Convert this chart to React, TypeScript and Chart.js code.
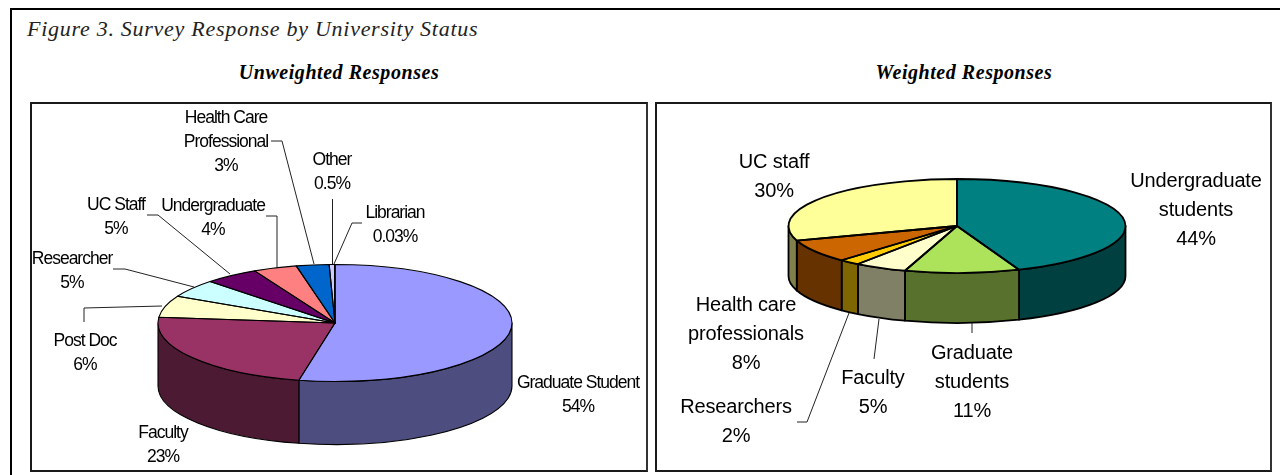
import React, { useEffect, useRef } from "react";
import { Chart, registerables } from "chart.js";

Chart.register(...registerables);

const unweightedCategories = ["Graduate Student", "Faculty", "Post Doc", "Researcher", "UC Staff", "Undergraduate", "Health Care Professional", "Other", "Librarian"];
const unweightedValues = [53.5, 23.4, 6, 5, 5, 4, 3, 0.5, 0.03];
const unweightedValueLabels = ["54%", "23%", "6%", "5%", "5%", "4%", "3%", "0.5%", "0.03%"];
const unweightedTopColors = ["#9999FF", "#993366", "#FFFFCC", "#CCFFFF", "#660066", "#FF8080", "#0066CC", "#CCCCFF", "#000080"];
const unweightedSideColors = ["#4D4D80", "#4D1A33", "#808066", "#668080", "#330033", "#804040", "#003366", "#666680", "#000040"];

const weightedCategories = ["Undergraduate students", "Graduate students", "Faculty", "Researchers", "Health care professionals", "UC staff"];
const weightedValues = [44, 11, 5, 2, 8, 30];
const weightedValueLabels = ["44%", "11%", "5%", "2%", "8%", "30%"];
const weightedTopColors = ["#008080", "#ADE35A", "#FFFFCC", "#FFCC00", "#CC6600", "#FFFF99"];
const weightedSideColors = ["#004040", "#58722E", "#808066", "#806600", "#663300", "#80804D"];

type Pt = [number, number];
type Lbl = { x: number; y: number; wrap?: boolean };
type Cfg = {
  left: number; width: number; cx: number; cy: number; rx: number; ry: number; depth: number;
  line: number; font: string; spacing: string; lineH: number;
  sides: string[]; names: string[]; texts: string[]; labels: Lbl[]; leaders: Pt[][];
};

const unweightedCfg: Cfg = {
  left: 0, width: 652, cx: 335, cy: 323, rx: 177, ry: 58.5, depth: 63,
  line: 1.1, font: '17.5px "Liberation Sans"', spacing: "-1px", lineH: 24,
  sides: unweightedSideColors, names: unweightedCategories, texts: unweightedValueLabels,
  labels: [
    { x: 578, y: 383 }, { x: 163, y: 433 }, { x: 85, y: 341 }, { x: 72, y: 259 }, { x: 116, y: 205 },
    { x: 213, y: 206 }, { x: 226, y: 118, wrap: true }, { x: 332, y: 160 }, { x: 395, y: 213 },
  ],
  leaders: [
    [[271, 141], [282, 141], [314, 264]],
    [[332.5, 199], [332.5, 264]],
    [[362, 223], [352, 223], [334, 264]],
    [[147, 215], [158, 215], [230, 274]],
    [[266, 216], [277, 216], [277, 267]],
    [[113, 269], [125, 269], [194, 287]],
    [[84, 322], [84, 308], [162, 306]],
  ],
};

const weightedCfg: Cfg = {
  left: 652, width: 628, cx: 957, cy: 226, rx: 168.5, ry: 47, depth: 50,
  line: 1.8, font: '20px "Liberation Sans"', spacing: "-0.15px", lineH: 29,
  sides: weightedSideColors, names: weightedCategories, texts: weightedValueLabels,
  labels: [
    { x: 1196, y: 181, wrap: true }, { x: 972, y: 353, wrap: true }, { x: 873, y: 378 }, { x: 736, y: 407 },
    { x: 746, y: 305, wrap: true }, { x: 774, y: 162 },
  ],
  leaders: [
    [[972, 323], [972, 333]],
    [[879, 319], [874, 359]],
    [[849, 313], [807, 422], [797, 422]],
  ],
};

const PAGE_H = 475;

function pie3d(cfg: Cfg) {
  const k = cfg.ry / cfg.rx;
  const midY = PAGE_H / 2;
  return {
    id: "pie3d",
    beforeDatasetsDraw(chart: any) {
      const ctx = chart.ctx;
      const arcs = chart.getDatasetMeta(0).data;
      const x0 = cfg.cx - cfg.left;
      // side walls
      ctx.save();
      arcs.forEach((el: any, i: number) => {
        const p = el.getProps(["startAngle", "endAngle", "outerRadius"], true);
        const a = Math.max(p.startAngle, 0);
        const b = Math.min(p.endAngle, Math.PI);
        if (b <= a) return;
        ctx.beginPath();
        ctx.ellipse(x0, cfg.cy, p.outerRadius, p.outerRadius * k, 0, a, b);
        ctx.ellipse(x0, cfg.cy + cfg.depth, p.outerRadius, p.outerRadius * k, 0, b, a, true);
        ctx.closePath();
        ctx.fillStyle = cfg.sides[i];
        ctx.fill();
        ctx.lineWidth = cfg.line;
        ctx.strokeStyle = "#000";
        ctx.lineJoin = "round";
        ctx.stroke();
      });
      ctx.restore();
      // flatten the library's own arcs
      ctx.save();
      ctx.translate(0, cfg.cy);
      ctx.scale(1, k);
      ctx.translate(0, -midY);
    },
    afterDatasetsDraw(chart: any) {
      const ctx = chart.ctx;
      ctx.restore();
      const arcs = chart.getDatasetMeta(0).data;
      const x0 = cfg.cx - cfg.left;
      ctx.save();
      ctx.strokeStyle = "#000";
      ctx.lineWidth = cfg.line;
      ctx.lineJoin = "round";
      arcs.forEach((el: any) => {
        const p = el.getProps(["startAngle", "endAngle", "outerRadius"], true);
        ctx.beginPath();
        ctx.moveTo(x0, cfg.cy);
        ctx.ellipse(x0, cfg.cy, p.outerRadius, p.outerRadius * k, 0, p.startAngle, p.endAngle);
        ctx.closePath();
        ctx.stroke();
      });
      // leader lines
      ctx.lineWidth = 1;
      ctx.strokeStyle = "#222";
      cfg.leaders.forEach((pts) => {
        ctx.beginPath();
        pts.forEach(([x, y], i) => (i ? ctx.lineTo(x - cfg.left, y) : ctx.moveTo(x - cfg.left, y)));
        ctx.stroke();
      });
      // labels
      ctx.fillStyle = "#000";
      ctx.font = cfg.font;
      ctx.letterSpacing = cfg.spacing;
      ctx.textAlign = "center";
      ctx.textBaseline = "middle";
      cfg.labels.forEach((l, i) => {
        const name = cfg.names[i];
        let lines = [name];
        if (l.wrap) {
          const at = name.lastIndexOf(" ");
          lines = [name.slice(0, at), name.slice(at + 1)];
        }
        lines.push(cfg.texts[i]);
        lines.forEach((t, j) => ctx.fillText(t, l.x - cfg.left, l.y + j * cfg.lineH));
      });
      ctx.restore();
    },
  };
}

function usePie(ref: React.RefObject<HTMLCanvasElement | null>, cfg: Cfg, values: number[], colors: string[]) {
  useEffect(() => {
    if (!ref.current) return;
    const padLeft = cfg.cx - cfg.left - cfg.rx;
    const chart = new Chart(ref.current, {
      type: "pie",
      data: {
        labels: cfg.names,
        datasets: [{ data: values, backgroundColor: colors, borderWidth: 0, hoverOffset: 0 }],
      },
      options: {
        animation: false,
        responsive: false,
        devicePixelRatio: 1,
        layout: {
          padding: {
            left: padLeft,
            right: cfg.width - padLeft - 2 * cfg.rx,
            top: PAGE_H / 2 - cfg.rx,
            bottom: PAGE_H / 2 - cfg.rx,
          },
        },
        plugins: { legend: { display: false }, tooltip: { enabled: false }, title: { display: false } },
      },
      plugins: [pie3d(cfg)],
    } as any);
    return () => chart.destroy();
  }, []);
}

const frame = (left: number, top: number, w: number, h: number): React.CSSProperties => ({
  position: "absolute", left, top, width: w, height: h, boxSizing: "border-box",
  borderTop: "2px solid #1a1a1a", borderLeft: "2px solid #1a1a1a", borderRight: "2px solid #333", borderBottom: "2px solid #1a1a1a",
});

export default function App() {
  const a = useRef<HTMLCanvasElement>(null);
  const b = useRef<HTMLCanvasElement>(null);
  usePie(a, unweightedCfg, unweightedValues, unweightedTopColors);
  usePie(b, weightedCfg, weightedValues, weightedTopColors);
  const head: React.CSSProperties = {
    position: "absolute", top: 61, font: 'italic bold 20px "Liberation Serif"', letterSpacing: "0.55px", textAlign: "center", color: "#000", whiteSpace: "nowrap",
  };
  return (
    <div style={{ position: "fixed", left: 0, top: 0, width: 1280, height: 475, background: "#fff", overflow: "hidden" }}>
      <div style={{ position: "absolute", left: 10, top: 8, width: 1270, height: 2, background: "#000" }} />
      <div style={{ position: "absolute", left: 10, top: 8, width: 2, height: 467, background: "#000" }} />
      <div style={{ position: "absolute", left: 27, top: 16, font: 'italic 22px "Liberation Serif"', letterSpacing: "0.73px", color: "#222", whiteSpace: "nowrap" }}>
        Figure 3. Survey Response by University Status
      </div>
      <div style={{ ...head, left: 139, width: 400 }}>Unweighted Responses</div>
      <div style={{ ...head, left: 764, width: 400 }}>Weighted Responses</div>
      <div style={frame(30, 102, 618, 370)} />
      <div style={frame(655, 102, 617, 370)} />
      <canvas ref={a} width={unweightedCfg.width} height={PAGE_H} style={{ position: "absolute", left: unweightedCfg.left, top: 0 }} />
      <canvas ref={b} width={weightedCfg.width} height={PAGE_H} style={{ position: "absolute", left: weightedCfg.left, top: 0 }} />
    </div>
  );
}
